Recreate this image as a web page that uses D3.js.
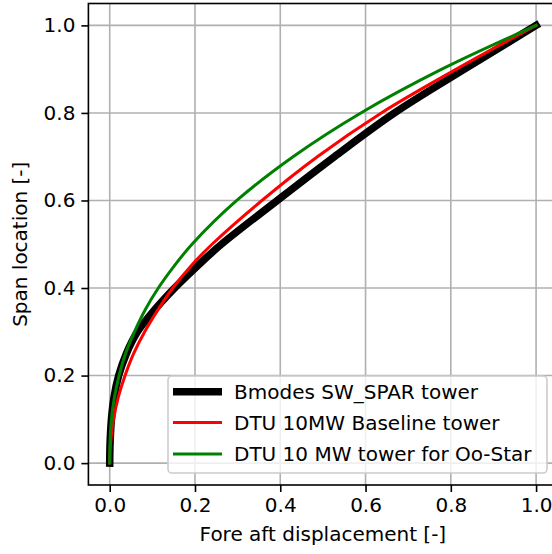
<!DOCTYPE html>
<html><head><meta charset="utf-8">
<script src="https://cdn.jsdelivr.net/npm/d3@7"></script>
<style>body{margin:0;background:#fff}svg{display:block}text{font-family:"DejaVu Sans",sans-serif}</style>
</head><body><svg id="c" width="552" height="554"></svg>
<script>
const span = [0, 0.02, 0.05, 0.1, 0.15, 0.2, 0.25, 0.3, 0.35, 0.4, 0.45, 0.5, 0.6, 0.7, 0.8, 0.9, 1.0];
const bmodes = [0, 0.0002, 0.001, 0.004, 0.010, 0.021, 0.039, 0.065, 0.105, 0.152, 0.205, 0.262, 0.393, 0.527, 0.668, 0.832, 1.0];
const dtuBaseline = [0, 0.0004, 0.0025, 0.009, 0.020, 0.036, 0.056, 0.082, 0.113, 0.148, 0.190, 0.240, 0.357, 0.487, 0.637, 0.813, 1.0];
const dtuOoStar = [0, 0.0001, 0.0008, 0.004, 0.011, 0.022, 0.037, 0.058, 0.083, 0.114, 0.151, 0.193, 0.298, 0.430, 0.589, 0.779, 1.0];
const seriesNames = ["Bmodes SW_SPAR tower", "DTU 10MW Baseline tower", "DTU 10 MW tower for Oo-Star"];
const seriesColors = ["#000000", "#ff0000", "#008000"];
const seriesWidths = [7.5, 3, 3];
const xTicks = [0.0, 0.2, 0.4, 0.6, 0.8, 1.0];
const yTicks = [0.0, 0.2, 0.4, 0.6, 0.8, 1.0];
const xLabel = "Fore aft displacement [-]";
const yLabel = "Span location [-]";

const svg = d3.select("#c");
const L = 88.4, R = 557.4, T = 3.5, B = 485;
const x = d3.scaleLinear().domain([-0.05, 1.05]).range([L, R]);
const y = d3.scaleLinear().domain([-0.05, 1.05]).range([B, T]);
const fs = 20;

// grid
const g = svg.append("g");
g.selectAll(".gx").data(xTicks).join("line").attr("x1", d => x(d)).attr("x2", d => x(d))
  .attr("y1", T).attr("y2", B).attr("stroke", "#b0b0b0").attr("stroke-width", 1.6);
g.selectAll(".gy").data(yTicks).join("line").attr("y1", d => y(d)).attr("y2", d => y(d))
  .attr("x1", L).attr("x2", R).attr("stroke", "#b0b0b0").attr("stroke-width", 1.6);

// lines
const allSeries = [bmodes, dtuBaseline, dtuOoStar];
const line = d3.line().x(d => x(d[0])).y(d => y(d[1])).curve(d3.curveCatmullRom.alpha(0.5));
allSeries.forEach((s, i) => {
  svg.append("path").datum(s.map((v, j) => [v, span[j]])).attr("d", line)
    .attr("fill", "none").attr("stroke", seriesColors[i]).attr("stroke-width", seriesWidths[i])
    .attr("stroke-linecap", "square").attr("stroke-linejoin", "round");
});

// axes
const xAxis = d3.axisBottom(x).tickValues(xTicks).tickFormat(d3.format(".1f")).tickSize(7).tickPadding(6);
const yAxis = d3.axisLeft(y).tickValues(yTicks).tickFormat(d3.format(".1f")).tickSize(7).tickPadding(6);
const gx = svg.append("g").attr("transform", `translate(0,${B})`).call(xAxis);
const gy = svg.append("g").attr("transform", `translate(${L},0)`).call(yAxis);
[gx, gy].forEach(a => {
  a.select(".domain").remove();
  a.selectAll(".tick line").attr("stroke", "#000").attr("stroke-width", 1.6);
  a.selectAll(".tick text").attr("font-size", fs).attr("fill", "#000").attr("font-family", "DejaVu Sans");
});
// spines
svg.append("rect").attr("x", L).attr("y", T).attr("width", R - L).attr("height", B - T)
  .attr("fill", "none").attr("stroke", "#000").attr("stroke-width", 1.6);

// labels
svg.append("text").attr("x", (L + R) / 2).attr("y", 541).attr("text-anchor", "middle")
  .attr("font-size", fs).attr("fill", "#000").text(xLabel);
svg.append("text").attr("transform", `translate(27,${(T + B) / 2}) rotate(-90)`).attr("text-anchor", "middle")
  .attr("font-size", fs).attr("fill", "#000").text(yLabel);

// legend
const lg = svg.append("g");
lg.append("rect").attr("x", 168).attr("y", 376).attr("width", 379).attr("height", 97).attr("rx", 4)
  .attr("fill", "#fff").attr("fill-opacity", 0.8).attr("stroke", "#cccccc").attr("stroke-width", 1.6);
const rowY = [391.7, 422.5, 454];
seriesNames.forEach((n, i) => {
  lg.append("line").attr("x1", 173).attr("x2", 222).attr("y1", rowY[i]).attr("y2", rowY[i])
    .attr("stroke", seriesColors[i]).attr("stroke-width", seriesWidths[i]);
  lg.append("text").attr("x", 234).attr("y", rowY[i] + 7).attr("font-size", fs).attr("fill", "#000").text(n);
});
</script></body></html>
